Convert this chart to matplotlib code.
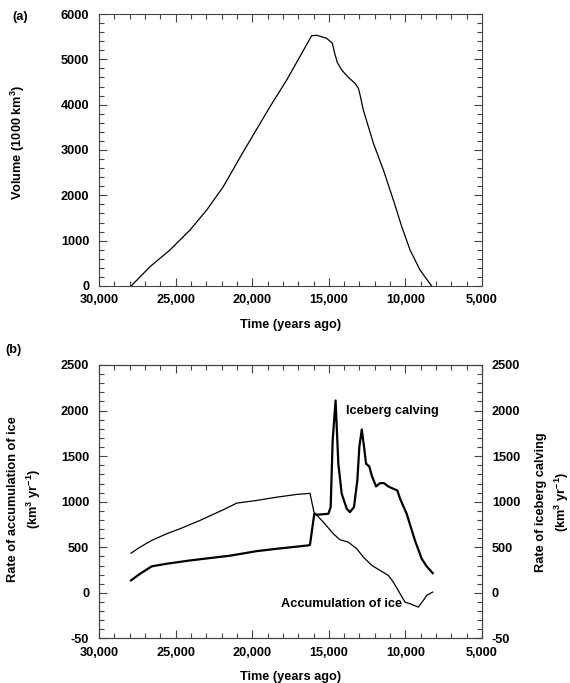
import numpy as np
import matplotlib
matplotlib.use('Agg')
from matplotlib import pyplot as plt
from matplotlib.ticker import MultipleLocator, FuncFormatter

# (a) ice volume, 1000 km^3
vol_years = [27900, 26670, 25370, 24060, 22970, 21890, 20580, 18840, 17750, 16120,
             15790, 15140, 14770, 14620, 14440, 14160, 13730, 13290, 13070, 12960,
             12750, 12090, 11440, 10790, 10240, 9700, 9050, 8290]
vol_values = [0, 426, 794, 1235, 1676, 2190, 2963, 3955, 4544, 5521,
              5530, 5464, 5354, 5133, 4926, 4765, 4603, 4471, 4360, 4213,
              3882, 3148, 2559, 1897, 1309, 794, 353, 0]

# (b) accumulation of ice, km^3/yr
acc_years = [27910, 27320, 26560, 25580, 24710, 23410, 21890, 21010, 19710, 18400,
             17100, 16230, 15970, 15360, 14710, 14270, 13730, 13180, 12750, 12200,
             11660, 11120, 10790, 10350, 10030, 9590, 9160, 8830, 8610, 8220]
acc_values = [436, 502, 576, 649, 704, 795, 912, 985, 1014, 1050,
              1080, 1092, 886, 777, 649, 583, 557, 485, 393, 302,
              247, 192, 118, -9, -101, -126, -156, -82, -27, 9]

# (b) iceberg calving, km^3/yr
calv_years = [27910, 27320, 26560, 25580, 24060, 21450, 19710, 18400, 16340, 16230,
              15950, 15790, 15030, 14880, 14750, 14560, 14380, 14160, 13830, 13620,
              13360, 13140, 13010, 12850, 12700, 12570, 12360, 12200, 11920, 11660,
              11400, 11120, 10790, 10530, 10350, 9920, 9380, 8940, 8610, 8220]
calv_values = [137, 210, 291, 320, 356, 408, 458, 484, 521, 528,
               868, 857, 868, 941, 1672, 2111, 1417, 1088, 923, 886,
               941, 1234, 1599, 1793, 1599, 1417, 1387, 1288, 1168, 1204,
               1204, 1168, 1142, 1124, 1033, 868, 576, 375, 290, 217]

b_ticks = [-500, 0, 500, 1000, 1500, 2000, 2500]
b_ticklabels = ['-50', '0', '500', '1000', '1500', '2000', '2500']

plt.rcParams['font.family'] = ['Liberation Sans', 'DejaVu Sans']
plt.rcParams['font.weight'] = 'bold'
plt.rcParams['font.size'] = 9.2
plt.rcParams['mathtext.fontset'] = 'custom'
plt.rcParams['mathtext.rm'] = 'Liberation Sans:bold'
plt.rcParams['mathtext.default'] = 'rm'

W, H = 570, 683
fig = plt.figure(figsize=(W / 100, H / 100), dpi=100)
ax1 = fig.add_axes([0.1737, 0.5813, 0.672, 0.3982])
ax3 = fig.add_axes([0.1737, 0.0652, 0.672, 0.4004])

year_fmt = FuncFormatter(lambda v, p: '{:,.0f}'.format(v))


def style(ax, ymin, ymax, ymaj, ymin_step):
    ax.set_xlim(30000, 5000)
    ax.set_ylim(ymin, ymax)
    ax.xaxis.set_major_locator(MultipleLocator(5000))
    ax.xaxis.set_minor_locator(MultipleLocator(1000))
    ax.yaxis.set_major_locator(MultipleLocator(ymaj))
    ax.yaxis.set_minor_locator(MultipleLocator(ymin_step))
    ax.xaxis.set_major_formatter(year_fmt)
    ax.tick_params(which='both', direction='in', top=True, color='#444', width=0.8)
    ax.tick_params(which='major', length=6, pad=6)
    ax.tick_params(axis='y', which='major', pad=7)
    ax.tick_params(which='minor', length=3.5)
    for s in ax.spines.values():
        s.set_color('#444')
        s.set_linewidth(0.8)
    ax.set_xlabel('Time (years ago)', fontweight='bold', labelpad=9)


def side_label(x, y, s):
    # x, y in pixels from top-left
    fig.text(x / W, 1 - y / H, s, rotation=90, ha='center', va='center',
             multialignment='center', fontweight='bold', linespacing=1.45)


# panel (a)
style(ax1, 0, 6000, 1000, 200)
ax1.tick_params(which='both', right=True)
ax1.plot(vol_years, vol_values, color='black', lw=0.9)
side_label(18, 142, 'Volume (1000 km$^3$)')
fig.text(0.022, 0.975, '(a)', fontweight='bold', va='center')

# panel (b)
style(ax3, -500, 2500, 500, 100)
ax3.set_yticks(b_ticks)
ax3.set_yticklabels(b_ticklabels)
ax3.plot(acc_years, acc_values, color='black', lw=0.9)
ax3.plot(calv_years, calv_values, color='black', lw=1.6)
side_label(25, 499, 'Rate of accumulation of ice\n(km$^3$ yr$^{-1}$)')

ax4 = ax3.twinx()
ax4.set_ylim(-500, 2500)
ax4.set_yticks(b_ticks)
ax4.set_yticklabels(b_ticklabels)
ax4.yaxis.set_minor_locator(MultipleLocator(100))
ax4.tick_params(which='both', direction='in', color='#444', width=0.8)
ax4.tick_params(which='major', length=6, pad=7)
ax4.tick_params(which='minor', length=3.5)
for s in ax4.spines.values():
    s.set_color('#444')
    s.set_linewidth(0.8)
ax3.tick_params(which='both', right=False)
side_label(553, 502, 'Rate of iceberg calving\n(km$^3$ yr$^{-1}$)')

ax3.text(13880, 2000, 'Iceberg calving', fontweight='bold', va='center', ha='left')
ax3.text(10200, -120, 'Accumulation of ice', fontweight='bold', va='center', ha='right')
fig.text(0.01, 0.487, '(b)', fontweight='bold', va='center')

fig.savefig('out.png', dpi=100)
